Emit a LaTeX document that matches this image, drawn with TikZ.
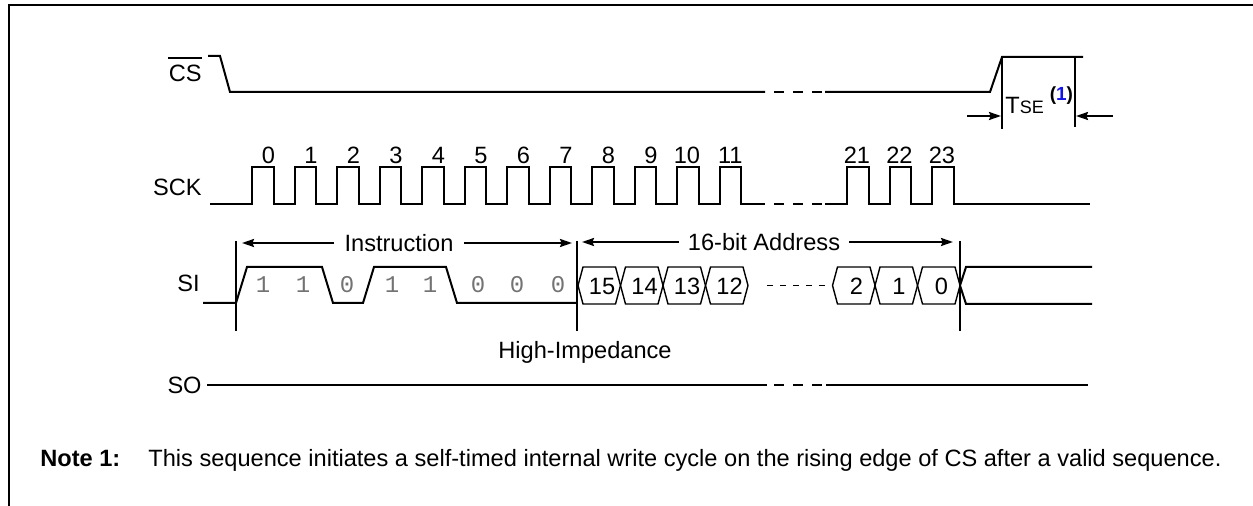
\documentclass[tikz,border=0pt]{standalone}
\usepackage{fontspec}
\setmainfont{Liberation Sans}
\newfontfamily\bitfont{Liberation Mono}
\usetikzlibrary{arrows.meta}
\definecolor{bitgray}{gray}{0.45}
\definecolor{noteblue}{RGB}{20,20,230}
\begin{document}
\begin{tikzpicture}[x=0.5bp,y=-0.5bp,line cap=butt,line join=miter,
	>={Stealth[length=6bp,width=4bp,inset=0.8bp]},
	font=\fontsize{11.8bp}{14bp}\selectfont]
	\tikzset{sig/.style={line width=1bp},
		brokenline/.style={line width=1bp,dash pattern=on 5bp off 4.5bp},
		lbl/.style={inner sep=0pt},
		marker/.style={line width=1bp},
		bit/.style={inner sep=0pt,text=bitgray,font=\fontsize{12bp}{14bp}\selectfont\bitfont},
		hexbox/.style={line width=0.7bp},
		declare function={tk(\k)=252+42.5*\k;}
	}
	\useasboundingbox (0,0) rectangle (1253,506);
	% frame
	\draw[line width=1bp] (8.5,506) -- (8.5,5.5) -- (1253,5.5);
	% CS
	\node[lbl,anchor=east] (cs) at (202,73) {CS};
	\draw[sig] ([yshift=3bp]cs.north west) -- ([yshift=3bp]cs.north east);
	\draw[sig] (208,56) -- (220,56) -- (230,92) -- (765,92);
	\draw[brokenline] (774,92) -- (823,92);
	\draw[sig] (825,92) -- (990,92) -- (1002,57) -- (1083,57);
	\draw[marker] (1002,57) -- (1002,129);
	\draw[line width=0.6bp] (1075,57) -- (1075,127);
	\coordinate (t1) at (1001,116);
	\coordinate (t2) at (1076,116);
	\coordinate (ta) at (967,116);
	\coordinate (tb) at (1113,116);
	\draw[sig,->] (ta) -- (t1);
	\draw[sig,->] (tb) -- (t2);
	\node[lbl,anchor=base west] (tse) at (1005,114) {T{\fontsize{9bp}{10bp}\selectfont SE}\hspace{3bp}\raisebox{6.5bp}{\fontsize{9.5bp}{11bp}\selectfont\bfseries(\textcolor{noteblue}{1})}};
	% SCK
	\node[lbl,anchor=east] (sck) at (202,187) {SCK};
	\draw[sig] (210,204) \foreach \s in {0,...,11}{ -- ({tk(\s)},204) -- ({tk(\s)},167) -- ({tk(\s)+21.5},167) -- ({tk(\s)+21.5},204)} -- (765,204);
	\draw[brokenline] (774,204) -- (823,204);
	\draw[sig] (825,204) \foreach \s in {14,15,16}{ -- ({tk(\s)},204) -- ({tk(\s)},167) -- ({tk(\s)+21.5},167) -- ({tk(\s)+21.5},204)} -- (1090,204);
	\foreach \n/\s in {0/0,1/1,2/2,3/3,4/4,5/5,6/6,7/7,8/8,9/9,10/10,11/11,21/14,22/15,23/16}
	\node[lbl,anchor=base east] (k\n) at ({tk(\s)+23.5},164) {\n};
	% SI
	\node[lbl,anchor=east] (si) at (200,283) {SI};
	\draw[sig] (203,303) -- (236,303) -- (247,267) -- (322,267) -- (333,303) -- (363,303) -- (374,267) -- (446,267) -- (457,303) -- (577,303);
	\foreach \b/\x in {1/263,1/303,0/347,1/392,1/430,0/478,0/517,0/558}
	\node[bit] (b\x) at (\x,285) {\b};
	\foreach \m/\x in {1/236,2/577,3/960}{
		\coordinate (m\m) at (\x,241);
		\draw[marker] (m\m) -- (\x,331);
	}
	\node[inner sep=5bp] (instr) at (399,243) {Instruction};
	\coordinate (i1) at (242,243);
	\coordinate (i2) at (572,243);
	\draw[sig,->] (instr) -- (i1);
	\draw[sig,->] (instr) -- (i2);
	\node[inner sep=4.5bp] (addr) at (764,242) {16-bit Address};
	\coordinate (a1) at (582,242);
	\coordinate (a2) at (953,242);
	\draw[sig,->] (addr) -- (a1);
	\draw[sig,->] (addr) -- (a2);
	\foreach \n/\x in {15/578,14/620.5,13/663,12/705.5,2/832.5,1/875,0/917.5}{
		\draw[hexbox] (\x,285.5) -- (\x+5,267) -- (\x+37.5,267) -- (\x+42.5,285.5) -- (\x+37.5,304) -- (\x+5,304) -- cycle;
		\node[lbl] (d\n) at (\x+24,286) {\n};
	}
	\draw[line width=0.8bp,dash pattern=on 3bp off 3.5bp] (767,285.5) -- (827,285.5);
	\draw[sig] (960,285.5) -- (966,267) -- (1092,267);
	\draw[sig] (960,285.5) -- (966,304) -- (1092,304);
	% SO
	\node[lbl,anchor=east] (so) at (202,385) {SO};
	\node[lbl,anchor=base] (hiz) at (585,358) {High-Impedance};
	\draw[sig] ([xshift=2.5bp]so.east) -- (767,385);
	\draw[brokenline] (774,385) -- (823,385);
	\draw[sig] (826,385) -- (1088,385);
	% note
	\node[lbl,anchor=base west] (note) at (40,466) {\bfseries Note 1:};
	\node[lbl,anchor=base west] (notetext) at (148,466) {This sequence initiates a self-timed internal write cycle on the rising edge of CS after a valid sequence.};
\end{tikzpicture}
\end{document}
